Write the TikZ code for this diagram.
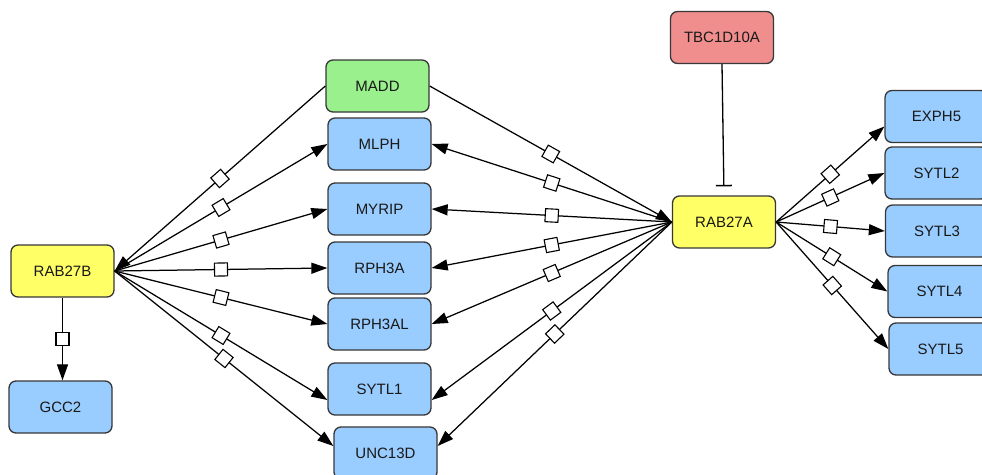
\documentclass[tikz,border=0pt]{standalone}
\usepackage{fontspec}
\setmainfont{Liberation Sans}
\usetikzlibrary{arrows.meta,calc}
\definecolor{ylw}{RGB}{255,255,102}
\definecolor{blu}{RGB}{153,204,255}
\definecolor{grn}{RGB}{153,240,140}
\definecolor{rd}{RGB}{240,142,142}
\definecolor{edge}{RGB}{55,55,55}
\begin{document}
\begin{tikzpicture}[x=1pt,y=-1pt,
  box/.style={draw=edge, line width=1.3pt, rounded corners=7pt, minimum width=103pt, minimum height=52pt, inner sep=0pt, font=\fontsize{15}{18}\selectfont, text=black!90},
  conn/.style={line width=1.25pt, -{Triangle[length=16pt,width=11pt]}},
  mk/.style={draw, fill=white, line width=1.1pt, minimum size=13pt, inner sep=0pt, sloped, pos=0.5, anchor=center}]
\useasboundingbox (0,0) rectangle (982,474);
% nodes
\node[box, fill=ylw] (RAB27B) at (62.5,271) {RAB27B};
\node[box, fill=blu] (GCC2) at (60.5,407) {GCC2};
\node[box, fill=grn] (MADD) at (377.5,86) {MADD};
\node[box, fill=blu] (MLPH) at (379.5,144) {MLPH};
\node[box, fill=blu] (MYRIP) at (379.5,209) {MYRIP};
\node[box, fill=blu] (RPH3A) at (379.5,268) {RPH3A};
\node[box, fill=blu] (RPH3AL) at (379.5,324) {RPH3AL};
\node[box, fill=blu] (SYTL1) at (379.5,389) {SYTL1};
\node[box, fill=blu] (UNC13D) at (385.5,453) {UNC13D};
\node[box, fill=rd] (TBC1D10A) at (722,37.5) {TBC1D10A};
\node[box, fill=ylw] (RAB27A) at (724,222) {RAB27A};
\node[box, fill=blu] (EXPH5) at (936.5,116.5) {EXPH5};
\node[box, fill=blu] (SYTL2) at (936.5,173) {SYTL2};
\node[box, fill=blu] (SYTL3) at (937,231) {SYTL3};
\node[box, fill=blu] (SYTL4) at (939.5,291.5) {SYTL4};
\node[box, fill=blu] (SYTL5) at (940.5,349) {SYTL5};
% left fan
\draw[conn] (MADD.west) -- node[mk]{} (RAB27B.east);
\draw[conn] (RAB27B.east) -- node[mk]{} (MLPH.west);
\draw[conn] (RAB27B.east) -- node[mk]{} (MYRIP.west);
\draw[conn] (RAB27B.east) -- node[mk]{} (RPH3A.west);
\draw[conn] (RAB27B.east) -- node[mk]{} (RPH3AL.west);
\draw[conn] (RAB27B.east) -- node[mk]{} ([shift={(0,11)}]SYTL1.west);
\draw[conn] (RAB27B.east) -- node[mk]{} ([shift={(0,-7)}]UNC13D.west);
\draw[conn] (RAB27B.south) -- node[mk]{} (RAB27B.south |- GCC2.north);
% middle fan
\draw[conn] (MADD.east) -- node[mk]{} (RAB27A.west);
\draw[conn] (RAB27A.west) -- node[mk]{} (MLPH.east);
\draw[conn] (RAB27A.west) -- node[mk]{} (MYRIP.east);
\draw[conn] (RAB27A.west) -- node[mk]{} (RPH3A.east);
\draw[conn] (RAB27A.west) -- node[mk]{} (RPH3AL.east);
\draw[conn] (RAB27A.west) -- node[mk]{} ([shift={(0,11)}]SYTL1.east);
\draw[conn] (RAB27A.west) -- node[mk]{} ([shift={(0,-7)}]UNC13D.east);
% inhibition
\draw[line width=1.3pt, -{Bar[width=16pt,line width=1.5pt]}, shorten >=9pt] (TBC1D10A.south) -- (RAB27A.north);
% right fan
\draw[conn] (RAB27A.east) -- node[mk]{} ([shift={(0,10)}]EXPH5.west);
\draw[conn] (RAB27A.east) -- node[mk]{} (SYTL2.west);
\draw[conn] (RAB27A.east) -- node[mk]{} (SYTL3.west);
\draw[conn] (RAB27A.east) -- node[mk]{} (SYTL4.west);
\draw[conn] (RAB27A.east) -- node[mk]{} (SYTL5.west);
\end{tikzpicture}
\end{document}
